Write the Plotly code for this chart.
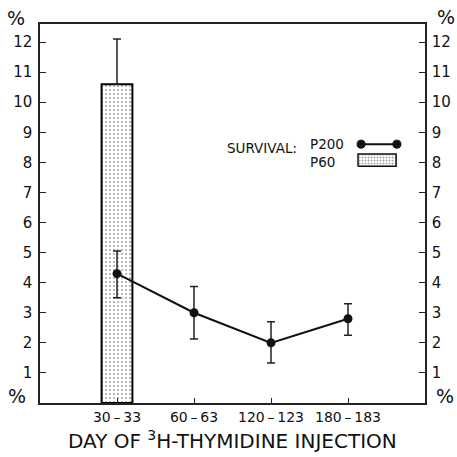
import plotly.graph_objects as go

categories = ["30-33", "60-63", "120-123", "180-183"]
tick_labels = ["30\u2009–\u200933", "60\u2009–\u200963", "120\u2009–\u2009123", "180\u2009–\u2009183"]
p200_values = [4.3, 3.0, 2.0, 2.8]
p200_err_plus = [0.75, 0.87, 0.7, 0.5]
p200_err_minus = [0.8, 0.87, 0.67, 0.55]
p60_category = ["30-33"]
p60_values = [10.6]
p60_err_plus = [1.5]
y_ticks = list(range(1, 13))

FONT = "DejaVu Sans"
fig = go.Figure()

fig.add_trace(go.Bar(
    x=p60_category, y=p60_values, width=0.4,
    marker=dict(color="white", line=dict(color="black", width=2),
                pattern=dict(shape=".", size=4, solidity=0.2,
                             fgcolor="#444", bgcolor="white")),
    error_y=dict(type="data", symmetric=False, array=p60_err_plus,
                 arrayminus=[0], color="#222", thickness=1.5, width=4),
    showlegend=False,
))

fig.add_trace(go.Scatter(
    x=categories, y=p200_values, mode="lines+markers",
    line=dict(color="#111", width=2),
    marker=dict(color="#111", size=9),
    error_y=dict(type="data", symmetric=False, array=p200_err_plus,
                 arrayminus=p200_err_minus, color="#222", thickness=1.5, width=4),
    showlegend=False,
))

fig.add_trace(go.Scatter(x=categories, y=p200_values, yaxis="y2",
                         mode="markers", marker=dict(opacity=0),
                         showlegend=False, hoverinfo="skip"))

# legend swatch for P60 (patterned rectangle) on an overlay axis in paper units
fig.add_trace(go.Scatter(x=[0.826, 0.925, 0.925, 0.826, 0.826],
                         y=[0.625, 0.625, 0.657, 0.657, 0.625],
                         xaxis="x2", yaxis="y3", mode="lines", fill="toself",
                         fillcolor="white", line=dict(color="#111", width=1.5),
                         fillpattern=dict(shape=".", size=3, solidity=0.3,
                                          fgcolor="#444", bgcolor="white"),
                         showlegend=False, hoverinfo="skip"))

axis_common = dict(showgrid=False, zeroline=False, showline=True,
                   linecolor="#222", linewidth=1.5, automargin=False)

fig.update_layout(
    width=457, height=457,
    margin=dict(l=40, r=32, t=24, b=54),
    paper_bgcolor="white", plot_bgcolor="white",
    font=dict(family=FONT, color="#111"),
    xaxis=dict(type="category", categoryorder="array", categoryarray=categories,
               tickvals=categories, ticktext=tick_labels,
               range=[-1, 4], ticks="inside", ticklen=5, tickcolor="#222",
               tickfont=dict(size=14), mirror=True,
               **axis_common),
    yaxis=dict(range=[0, 12.6], tickvals=y_ticks, ticks="inside", ticklen=6,
               tickcolor="#222", tickfont=dict(size=15), mirror=True,
               ticklabelstandoff=3, **axis_common),
    yaxis2=dict(range=[0, 12.6], tickvals=y_ticks, ticks="inside", ticklen=6,
                tickcolor="#222", tickfont=dict(size=15), overlaying="y",
                side="right", ticklabelstandoff=2, **axis_common),
    xaxis2=dict(range=[0, 1], visible=False, overlaying="x", anchor="y3",
                automargin=False),
    yaxis3=dict(range=[0, 1], visible=False, overlaying="y", anchor="x2",
                automargin=False),
)

fig.add_annotation(x=0.5, y=-0.0976, xref="paper", yref="paper",
                   text="DAY OF <sup>3</sup>H-THYMIDINE INJECTION",
                   showarrow=False, font=dict(size=20), xanchor="center",
                   yanchor="middle")

for (x, y) in [(-0.0623, 1.016), (-0.06, 0.018), (1.0545, 1.018), (1.052, 0.018)]:
    fig.add_annotation(x=x, y=y, xref="paper", yref="paper", text="%",
                       showarrow=False, font=dict(size=19), xanchor="center",
                       yanchor="middle")

# legend
fig.add_annotation(x=0.4805, y=0.673, xref="paper", yref="paper", text="SURVIVAL:",
                   showarrow=False, font=dict(size=13.5), xanchor="left", yanchor="middle")
fig.add_annotation(x=0.696, y=0.683, xref="paper", yref="paper", text="P200",
                   showarrow=False, font=dict(size=13.5), xanchor="left", yanchor="middle")
fig.add_annotation(x=0.696, y=0.636, xref="paper", yref="paper", text="P60",
                   showarrow=False, font=dict(size=13.5), xanchor="left", yanchor="middle")
fig.add_shape(type="line", xref="paper", yref="paper", x0=0.834, x1=0.927,
              y0=0.683, y1=0.683, line=dict(color="#111", width=2))
for xx in (0.834, 0.927):
    fig.add_shape(type="circle", xref="paper", yref="paper",
                  x0=xx - 0.0104, x1=xx + 0.0104, y0=0.683 - 0.0106, y1=0.683 + 0.0106,
                  fillcolor="#111", line=dict(color="#111", width=1))

fig.write_html("out.html", config={"displayModeBar": False},
               post_script="document.body.style.margin='0';"
                           "document.body.style.overflow='hidden';")
